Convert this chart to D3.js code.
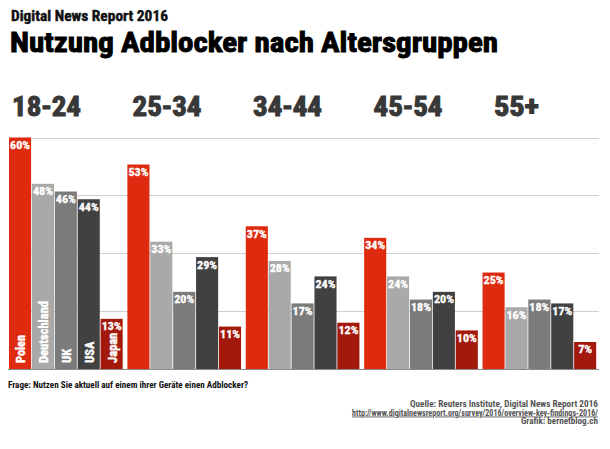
<!DOCTYPE html>
<html>
<head>
<meta charset="utf-8">
<script src="https://cdn.jsdelivr.net/npm/d3@7"></script>
<style>
  html, body { margin: 0; padding: 0; background: #fff; }
  svg { display: block; }
  text { font-family: 'Liberation Sans Narrow', 'Arial Narrow', 'Roboto Condensed', 'Liberation Sans', Arial, sans-serif; font-weight: bold; }
</style>
</head>
<body>
<svg id="chart" width="610" height="449"></svg>
<script>
const ageGroups = ["18-24", "25-34", "34-44", "45-54", "55+"];
const countries = ["Polen", "Deutschland", "UK", "USA", "Japan"];
const polen       = [60, 53, 37, 34, 25];
const deutschland = [48, 33, 28, 24, 16];
const uk          = [46, 20, 17, 18, 18];
const usa         = [44, 29, 24, 20, 17];
const japan       = [13, 11, 12, 10, 7];
const gridTicks   = [15, 30, 45, 60];

const seriesValues = [polen, deutschland, uk, usa, japan];
const colors = ["#de2a0f", "#a9a9a9", "#7b7b7b", "#414141", "#a3190b"];

const svg = d3.select("#chart");

function fit(sel, w) {
  sel.attr("textLength", w).attr("lengthAdjust", "spacingAndGlyphs");
  return sel;
}
function heavy(sel, c, w) {
  return sel.attr("stroke", c).attr("stroke-width", w).attr("paint-order", "stroke");
}

// Titles
heavy(fit(svg.append("text").attr("x", 11).attr("y", 21).attr("font-size", 14).attr("fill", "#111")
  .text("Digital News Report 2016"), 157), "#111", 0.4);
heavy(fit(svg.append("text").attr("x", 10).attr("y", 52).attr("font-size", 28).attr("fill", "#000")
  .text("Nutzung Adblocker nach Altersgruppen"), 488), "#000", 0.9);

// Scales
const x0 = d3.scaleBand().domain(ageGroups).range([9, 597]).paddingInner(0.033).paddingOuter(0);
const x1 = d3.scaleBand().domain(countries).range([0, x0.bandwidth()]).padding(0);
const y = d3.scaleLinear().domain([0, 60]).range([369, 137.5]);
const labelX = d3.scalePoint().domain(ageGroups).range([12, 494]);

// Age group headers
svg.append("g").selectAll("text").data(ageGroups).join("text")
  .attr("x", d => labelX(d)).attr("y", 116)
  .attr("font-size", 27).attr("fill", "#383838")
  .attr("stroke", "#383838").attr("stroke-width", 1)
  .text(d => d)
  .each(function(d) { fit(d3.select(this), d === "55+" ? 45 : 69); });

// Gridlines
svg.append("g").selectAll("line").data(gridTicks).join("line")
  .attr("x1", 9).attr("x2", 599)
  .attr("y1", d => Math.round(y(d)) + 0.5).attr("y2", d => Math.round(y(d)) + 0.5)
  .attr("stroke", "#cfcfcf").attr("stroke-width", 1);

// Bars
const rows = [];
ageGroups.forEach((g, gi) => {
  countries.forEach((c, ci) => {
    rows.push({ group: g, country: c, ci, value: seriesValues[ci][gi] });
  });
});

const bars = svg.append("g").selectAll("g").data(rows).join("g")
  .attr("transform", d => `translate(${x0(d.group) + x1(d.country)},0)`);

bars.append("rect")
  .attr("x", 0).attr("width", x1.bandwidth() - 0.8)
  .attr("y", d => y(d.value)).attr("height", d => y(0) - y(d.value))
  .attr("fill", d => colors[d.ci]);

bars.append("text")
  .attr("x", (x1.bandwidth() - 0.8) / 2).attr("y", d => y(d.value) + 11.5)
  .attr("text-anchor", "middle").attr("font-size", 11.5).attr("fill", "#fff")
  .attr("stroke", "#fff").attr("stroke-width", 0.3)
  .text(d => d.value + "%")
  .each(function(d) { fit(d3.select(this), d.value < 10 ? 14 : 20); });

// Country labels in first group
svg.append("g").selectAll("text").data(countries).join("text")
  .attr("transform", d => `translate(${x0(ageGroups[0]) + x1(d) + x1.bandwidth() / 2 + 4.5},${y(0) - 6}) rotate(-90)`)
  .attr("font-size", 12.5).attr("fill", "#fff")
  .attr("stroke", "#fff").attr("stroke-width", 0.4)
  .text(d => d)
  .each(function(d) { if (d === "Deutschland") fit(d3.select(this), 62); if (d === "Polen") fit(d3.select(this), 28); });

// Baseline
svg.append("line").attr("x1", 8).attr("x2", 599)
  .attr("y1", y(0) + 0.5).attr("y2", y(0) + 0.5)
  .attr("stroke", "#8a8a8a").attr("stroke-width", 1);

// Footer
fit(svg.append("text").attr("x", 8).attr("y", 388).attr("font-size", 9).attr("fill", "#111")
  .text("Frage: Nutzen Sie aktuell auf einem ihrer Geräte einen Adblocker?"), 240);

const src = svg.append("g").attr("font-size", 8.5).attr("fill", "#555");
fit(src.append("text").attr("x", 598).attr("y", 407).attr("text-anchor", "end")
  .text("Quelle:  Reuters Institute, Digital News Report 2016"), 188);
fit(src.append("text").attr("x", 598).attr("y", 415.5).attr("text-anchor", "end")
  .attr("text-decoration", "underline")
  .text("http://www.digitalnewsreport.org/survey/2016/overview-key-findings-2016/"), 246);
fit(src.append("text").attr("x", 598).attr("y", 424).attr("text-anchor", "end")
  .text("Grafik: bernetblog.ch"), 77);
</script>
</body>
</html>
